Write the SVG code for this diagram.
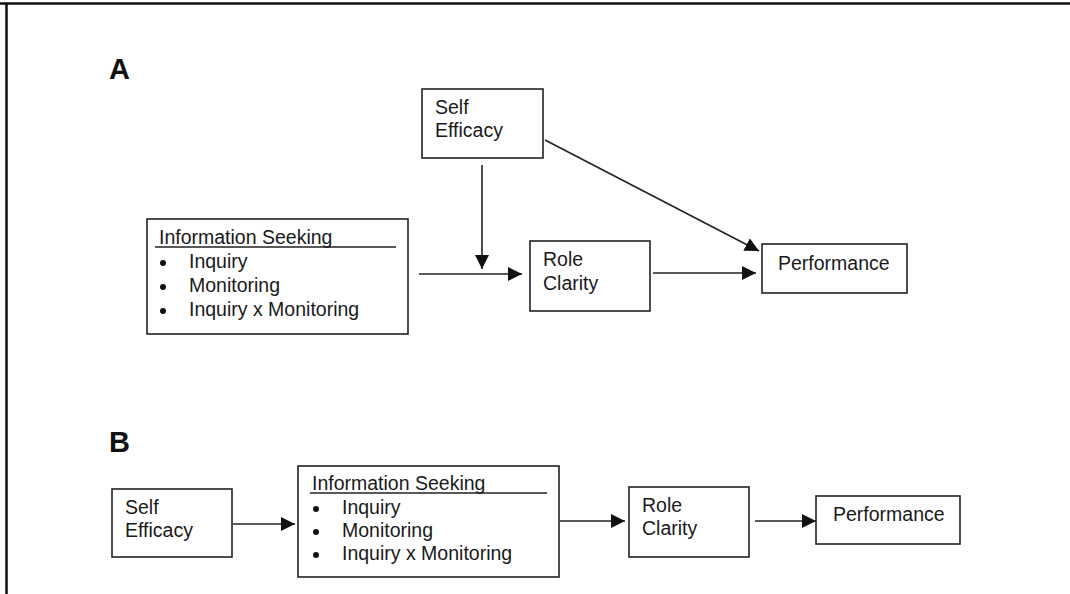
<svg xmlns="http://www.w3.org/2000/svg" width="1070" height="594" viewBox="0 0 1070 594">
<defs>
<style>
.box{fill:#fff;stroke:#222;stroke-width:1.6}
.t{font-family:"Liberation Sans",Arial,sans-serif;font-size:19.5px;fill:#1a1a1a}
.lbl{font-family:"Liberation Sans",Arial,sans-serif;font-size:29px;font-weight:bold;fill:#111}
.ln{stroke:#222;stroke-width:1.6;fill:none}
.con{stroke:#222;stroke-width:1.6;fill:none;marker-end:url(#ah)}
.dot{fill:#111}
</style>
<marker id="ah" markerUnits="userSpaceOnUse" markerWidth="15" markerHeight="15" refX="14" refY="7" orient="auto">
<path d="M0,0 L14,7 L0,14 z" fill="#111"/>
</marker>
</defs>
<rect width="1070" height="594" fill="#fff"/>
<g id="frame">
<line x1="0" y1="3.5" x2="1070" y2="3.5" stroke="#111" stroke-width="2.5"/>
<line x1="6.5" y1="3" x2="6.5" y2="594" stroke="#111" stroke-width="2.5"/>
</g>
<text class="lbl" x="109" y="79">A</text>
<text class="lbl" x="109" y="452">B</text>

<g id="connectors">
<line class="con" x1="482" y1="165" x2="482" y2="269"/>
<line class="con" x1="419" y1="274" x2="522" y2="274"/>
<line class="con" x1="653" y1="273" x2="756" y2="273"/>
<line class="con" x1="545" y1="140" x2="759" y2="251"/>
<line class="con" x1="233" y1="524" x2="295" y2="524"/>
<line class="con" x1="560" y1="521" x2="625" y2="521"/>
<line class="con" x1="755" y1="521" x2="816" y2="521"/>
</g>

<g id="a-self-efficacy">
<rect class="box" x="422" y="89" width="121" height="69"/>
<text class="t" x="435" y="114">Self</text>
<text class="t" x="435" y="137">Efficacy</text>
</g>
<g id="a-information-seeking">
<rect class="box" x="147" y="219" width="261" height="115"/>
<text class="t" x="159" y="244">Information Seeking</text>
<line class="ln" x1="155" y1="247" x2="396" y2="247"/>
<circle class="dot" cx="163" cy="263" r="3"/>
<circle class="dot" cx="163" cy="287" r="3"/>
<circle class="dot" cx="163" cy="311" r="3"/>
<text class="t" x="189" y="268">Inquiry</text>
<text class="t" x="189" y="292">Monitoring</text>
<text class="t" x="189" y="316">Inquiry x Monitoring</text>
</g>
<g id="a-role-clarity">
<rect class="box" x="530" y="241" width="120" height="70"/>
<text class="t" x="543" y="266">Role</text>
<text class="t" x="543" y="290">Clarity</text>
</g>
<g id="a-performance">
<rect class="box" x="762" y="244" width="145" height="49"/>
<text class="t" x="778" y="270">Performance</text>
</g>

<g id="b-self-efficacy">
<rect class="box" x="112" y="489" width="120" height="68"/>
<text class="t" x="125" y="514">Self</text>
<text class="t" x="125" y="537">Efficacy</text>
</g>
<g id="b-information-seeking">
<rect class="box" x="298" y="466" width="261" height="111"/>
<text class="t" x="312" y="490">Information Seeking</text>
<line class="ln" x1="310" y1="493" x2="547" y2="493"/>
<circle class="dot" cx="316" cy="509" r="3"/>
<circle class="dot" cx="316" cy="532" r="3"/>
<circle class="dot" cx="316" cy="555" r="3"/>
<text class="t" x="342" y="514">Inquiry</text>
<text class="t" x="342" y="537">Monitoring</text>
<text class="t" x="342" y="560">Inquiry x Monitoring</text>
</g>
<g id="b-role-clarity">
<rect class="box" x="629" y="487" width="120" height="70"/>
<text class="t" x="642" y="512">Role</text>
<text class="t" x="642" y="535">Clarity</text>
</g>
<g id="b-performance">
<rect class="box" x="816" y="496" width="144" height="48"/>
<text class="t" x="833" y="521">Performance</text>
</g>
</svg>
